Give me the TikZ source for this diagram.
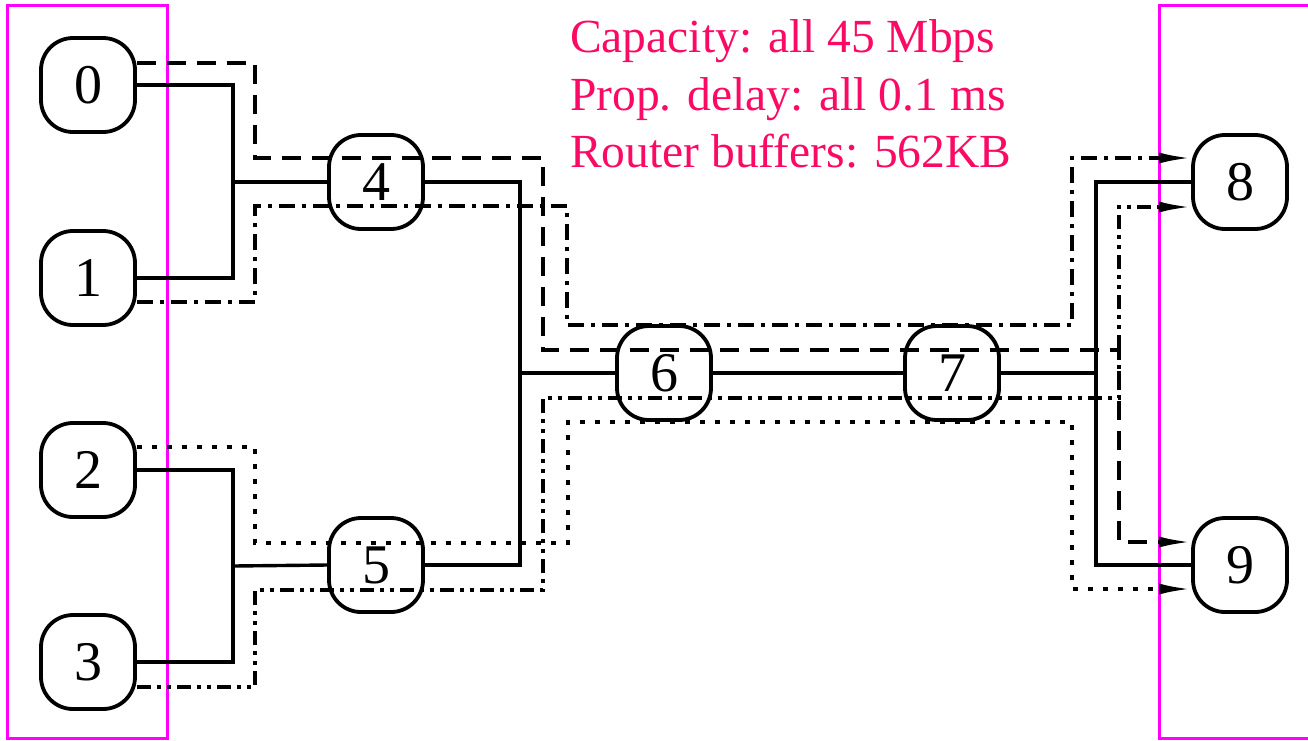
\documentclass[tikz,border=0pt]{standalone}
\usepackage{fontspec}
\setmainfont{Liberation Serif}
\usetikzlibrary{arrows.meta,calc}
\definecolor{pinkred}{RGB}{250,10,100}
\definecolor{frame}{RGB}{255,0,255}
\tikzset{
  host/.style={draw=black,line width=3.8pt,rounded corners=32pt,minimum width=94pt,minimum height=94pt,
    inner sep=0pt,font=\fontsize{56}{56}\selectfont},
  link/.style={draw=black,line width=3.4pt},
  flowA/.style={draw=black,line width=3.4pt,dash pattern=on 19pt off 11pt},
  flowB/.style={draw=black,line width=3.4pt,dash pattern=on 16pt off 7pt on 4pt off 7pt},
  flowC/.style={draw=black,line width=3.4pt,dash pattern=on 5pt off 10pt},
  flowD/.style={draw=black,line width=3.4pt,dash pattern=on 14pt off 6pt on 4pt off 6pt on 4pt off 6pt},
  tip/.style={-{Latex[length=32pt,width=11pt]}},
  note/.style={anchor=base west,text=pinkred,inner sep=0pt,font=\fontsize{47.5}{57.5}\selectfont},
  box/.style={draw=frame,line width=3pt}
}
\begin{document}
\begin{tikzpicture}[x=1pt,y=-1pt]
\useasboundingbox (0,0) rectangle (1308,740);
% frames
\draw[box] (7,5) rectangle (167,738);
\draw[box] (1308,5) -- (1159,5) -- (1159,738) -- (1308,738);
% nodes
\node[host] (n0) at (88,85) {0};
\node[host] (n1) at (88,278) {1};
\node[host] (n2) at (88,470) {2};
\node[host] (n3) at (88,662) {3};
\node[host] (n4) at (376,182) {4};
\node[host] (n5) at (376,565) {5};
\node[host] (n6) at (664,373) {6};
\node[host] (n7) at (952,373) {7};
\node[host] (n8) at (1240,182) {8};
\node[host] (n9) at (1240,565) {9};
% junctions
\coordinate (jA) at (233,182);
\coordinate (jB) at (233,566);
\coordinate (jC) at (520,373);
\coordinate (jD) at (1096,373);
% solid links
\draw[link] (n0.east) -| (jA) |- (n1.east);
\draw[link] (jA) -- (n4.west);
\draw[link] (n2.east) -| (jB) |- (n3.east);
\draw[link] (jB) -- (n5.west);
\draw[link] (n4.east) -| (jC) |- (n5.east);
\draw[link] (jC) -- (n6.west);
\draw[link] (n6.east) -- (n7.west);
\draw[link] (n7.east) -- (jD);
\draw[link] (n8.west) -| (jD) |- (n9.west);
% flows
\draw[flowA,tip] ([yshift=22pt]n0.east) -| (255,158) -| (543,350) -| (1119,542) -- ([yshift=23pt]n9.west);
\draw[flowB,tip] ([yshift=-24pt]n1.east) -| (255,206) -| (567,325) -| (1072,158) -- ([yshift=24pt]n8.west);
\draw[flowC,tip] ([yshift=23pt]n2.east) -| (255,543) -| (568,422) -| (1072,589) -- ([yshift=-24pt]n9.west);
\draw[flowD,tip] ([yshift=-25pt]n3.east) -| (255,590) -| (543,398) -| (1119,207) -- ([yshift=-25pt]n8.west);
% text
\node[note] (t1) at (570,52) {Capacity: all 45 Mbps};
\node[note] (t2) at (570,110) {Prop. delay: all 0.1 ms};
\node[note] (t3) at (570,167) {Router buffers: 562KB};
\end{tikzpicture}
\end{document}
